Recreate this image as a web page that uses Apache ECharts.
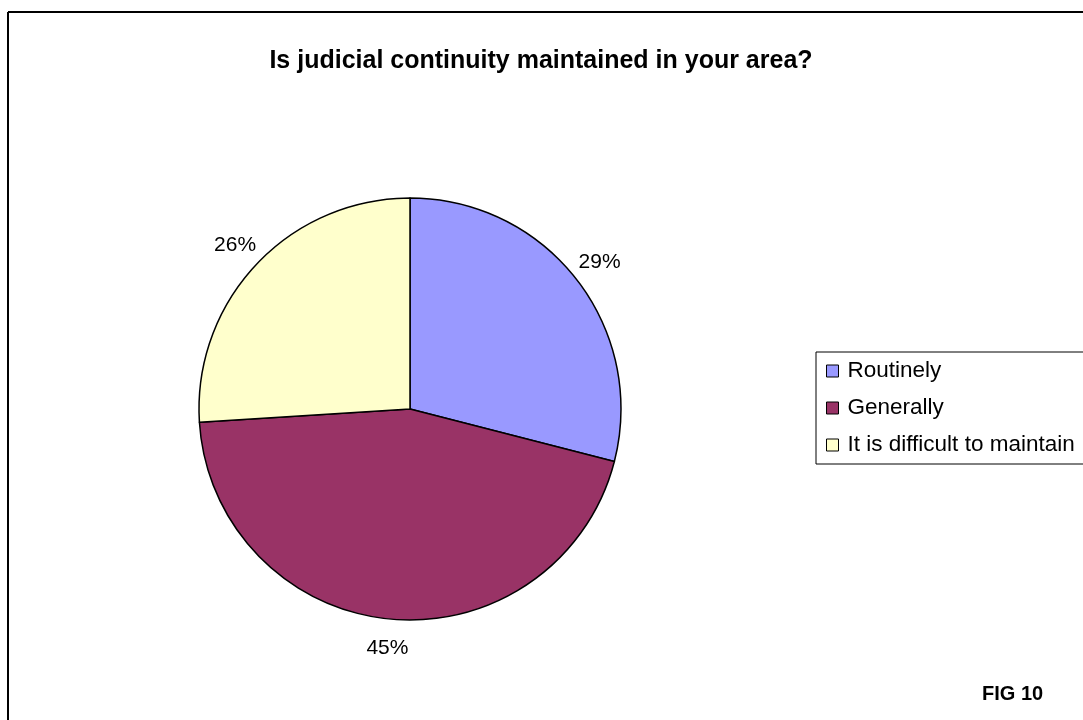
<!DOCTYPE html>
<html>
<head>
<meta charset="utf-8">
<script src="https://cdn.jsdelivr.net/npm/echarts@6/dist/echarts.min.js"></script>
<style>
  html, body { margin: 0; padding: 0; background: #fff; }
  #chart { width: 1083px; height: 720px; }
</style>
</head>
<body>
<div id="chart"></div>
<script>
// data
const categories = ['Routinely', 'Generally', 'It is difficult to maintain'];
const shares = [29, 45, 26];
const colors = ['#9999FF', '#993366', '#FFFFCC'];

const chart = echarts.init(document.getElementById('chart'));
const font = 'Liberation Sans, Arial, sans-serif';

chart.setOption({
    backgroundColor: '#ffffff',
    animation: false,
    title: [{
        text: 'Is judicial continuity maintained in your area?',
        left: 536, top: 44, textAlign: 'center',
        textStyle: { fontFamily: font, fontSize: 25, fontWeight: 'bold', color: '#000' }
    }, {
        text: 'FIG 10',
        left: 977, top: 679,
        textStyle: { fontFamily: font, fontSize: 20, fontWeight: 'bold', color: '#000' }
    }],
    legend: {
        orient: 'vertical',
        left: 816, top: 352,
        padding: [7, 40, 7, 10],
        itemGap: 13,
        itemWidth: 12, itemHeight: 12,
        icon: 'rect',
        borderColor: '#000', borderWidth: 1,
        itemStyle: { borderColor: '#000', borderWidth: 1 },
        textStyle: { fontFamily: font, fontSize: 22.5, color: '#000', lineHeight: 24, padding: [0, 0, 0, 4] },
        data: categories
    },
    graphic: [
        { type: 'line', shape: { x1: 8, y1: 12, x2: 1083, y2: 12 }, style: { stroke: '#000', lineWidth: 2 } },
        { type: 'line', shape: { x1: 8, y1: 12, x2: 8, y2: 720 }, style: { stroke: '#000', lineWidth: 2 } }
    ],
    series: [{
        type: 'pie',
        center: [410, 409],
        radius: 211,
        startAngle: 90,
        clockwise: true,
        label: { show: false },
        labelLine: { show: false },
        itemStyle: { borderColor: '#000', borderWidth: 1.5 },
        emphasis: { disabled: true },
        data: categories.map((c, i) => ({
            name: c, value: shares[i], itemStyle: { color: colors[i] }
        }))
    }, {
        // invisible ring that only carries the percentage labels
        type: 'pie',
        center: [410, 409],
        radius: [211, 263],
        startAngle: 90,
        clockwise: true,
        silent: true,
        itemStyle: { color: 'rgba(0,0,0,0)', borderWidth: 0 },
        label: {
            show: true, position: 'inside',
            formatter: '{d}%',
            fontFamily: font, fontSize: 21, color: '#000'
        },
        labelLine: { show: false },
        emphasis: { disabled: true },
        data: categories.map((c, i) => ({ name: c, value: shares[i] }))
    }]
});
</script>
</body>
</html>
